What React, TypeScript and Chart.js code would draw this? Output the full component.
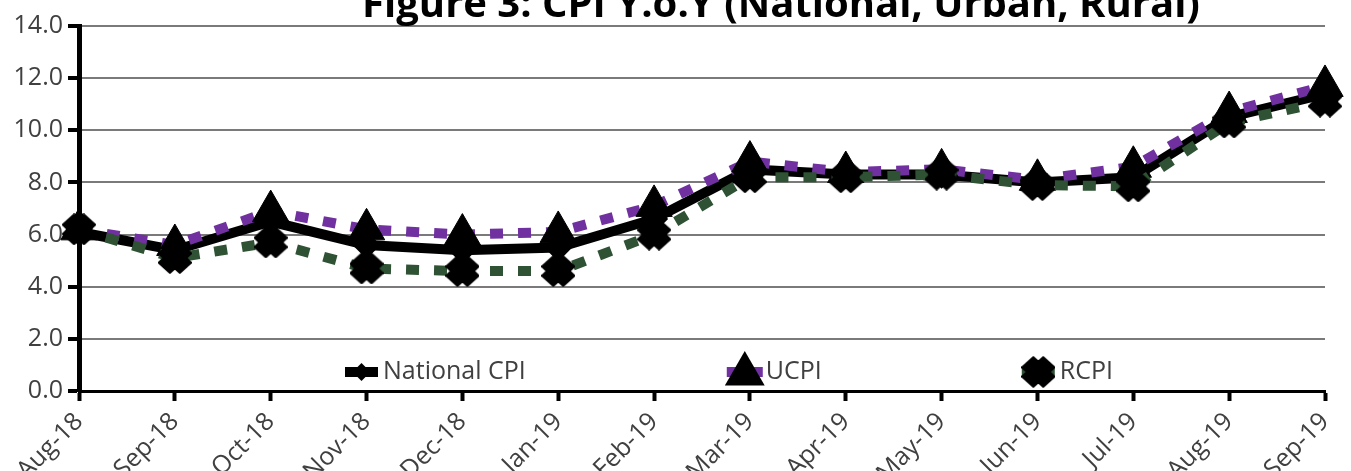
import React, { useEffect, useRef } from "react";
import { Chart, registerables } from "chart.js";

Chart.register(...registerables);

const months = [
  "Aug-18", "Sep-18", "Oct-18", "Nov-18", "Dec-18", "Jan-19", "Feb-19",
  "Mar-19", "Apr-19", "May-19", "Jun-19", "Jul-19", "Aug-19", "Sep-19",
];
const nationalCPI = [6.1, 5.4, 6.5, 5.6, 5.4, 5.5, 6.6, 8.5, 8.3, 8.3, 8.0, 8.2, 10.5, 11.4];
const ucpi = [6.2, 5.6, 6.9, 6.2, 6.0, 6.1, 7.1, 8.8, 8.4, 8.5, 8.1, 8.6, 10.7, 11.7];
const rcpi = [6.2, 5.1, 5.7, 4.7, 4.6, 4.6, 6.0, 8.2, 8.2, 8.3, 7.9, 7.85, 10.3, 11.1];
const yTickValues = [0, 2, 4, 6, 8, 10, 12, 14];
const seriesNames = ["National CPI", "UCPI", "RCPI"];
const titleText = "Figure 3: CPI Y.o.Y (National, Urban, Rural)";

const FONT = "'Open Sans', 'DejaVu Sans', sans-serif";
const TICK_SIZE = 25;
const TEXT_COLOR = "#404040";
const PURPLE = "#7030A0";
const GREEN = "#2E5233";

function makeXMarker(): HTMLCanvasElement {
  const c = document.createElement("canvas");
  c.width = 34;
  c.height = 32;
  const g = c.getContext("2d")!;
  const s = 15;
  const w = 8;
  const pts: [number, number][] = [
    [w, s], [w, w], [s, w], [s, -w], [w, -w], [w, -s],
    [-w, -s], [-w, -w], [-s, -w], [-s, w], [-w, w], [-w, s],
  ];
  const a = Math.PI / 4;
  g.translate(17, 16);
  g.scale(1, 0.92);
  g.beginPath();
  pts.forEach(([px, py], i) => {
    const rx = px * Math.cos(a) - py * Math.sin(a);
    const ry = px * Math.sin(a) + py * Math.cos(a);
    if (i === 0) g.moveTo(rx, ry);
    else g.lineTo(rx, ry);
  });
  g.closePath();
  g.fillStyle = "#000";
  g.fill();
  g.lineJoin = "round";
  g.lineWidth = 2;
  g.strokeStyle = "#000";
  g.stroke();
  return c;
}

export default function App() {
  const ref = useRef<HTMLCanvasElement>(null);

  useEffect(() => {
    const xMarker = makeXMarker();

    const titlePlugin = {
      id: "topTitle",
      afterDraw(chart: any) {
        const ctx = chart.ctx;
        ctx.save();
        ctx.font = `bold 40px ${FONT}`;
        ctx.fillStyle = "#000";
        ctx.textAlign = "center";
        ctx.textBaseline = "alphabetic";
        ctx.fillText(titleText, 781, 17);
        ctx.restore();
      },
    };

    const legendPlugin = {
      id: "innerLegend",
      afterDatasetsDraw(chart: any) {
        const ctx = chart.ctx;
        const ca = chart.chartArea;
        const y = ca.bottom - 19;
        ctx.save();
        ctx.font = `${TICK_SIZE}px ${FONT}`;
        ctx.textBaseline = "middle";
        ctx.textAlign = "left";
        let x = ca.left + 266;

        // National CPI
        ctx.strokeStyle = "#000";
        ctx.lineWidth = 10;
        ctx.beginPath();
        ctx.moveTo(x, y);
        ctx.lineTo(x + 33, y);
        ctx.stroke();
        ctx.fillStyle = "#000";
        ctx.beginPath();
        ctx.moveTo(x + 16.5, y - 9);
        ctx.lineTo(x + 25.5, y);
        ctx.lineTo(x + 16.5, y + 9);
        ctx.lineTo(x + 7.5, y);
        ctx.closePath();
        ctx.fill();
        ctx.fillStyle = TEXT_COLOR;
        ctx.fillText(seriesNames[0], x + 38, y);
        x += 38 + ctx.measureText(seriesNames[0]).width + 197;

        // UCPI
        ctx.strokeStyle = PURPLE;
        ctx.lineWidth = 10;
        ctx.beginPath();
        ctx.moveTo(x + 4, y);
        ctx.lineTo(x + 40, y);
        ctx.stroke();
        const cx = x + 22;
        const r = 23;
        const cy = y + 2;
        ctx.fillStyle = "#000";
        ctx.beginPath();
        for (let i = 0; i < 3; i++) {
          const ang = (i * 2 * Math.PI) / 3;
          const px = cx + Math.sin(ang) * r;
          const py = cy - Math.cos(ang) * r;
          if (i === 0) ctx.moveTo(px, py);
          else ctx.lineTo(px, py);
        }
        ctx.closePath();
        ctx.fill();
        ctx.fillStyle = TEXT_COLOR;
        ctx.fillText(seriesNames[1], x + 43, y);
        x += 43 + ctx.measureText(seriesNames[1]).width + 200;

        // RCPI
        ctx.strokeStyle = GREEN;
        ctx.lineWidth = 10;
        ctx.beginPath();
        ctx.moveTo(x, y);
        ctx.lineTo(x + 33, y);
        ctx.stroke();
        ctx.drawImage(xMarker, x + 16.5 - xMarker.width / 2, y - xMarker.height / 2);
        ctx.fillStyle = TEXT_COLOR;
        ctx.fillText(seriesNames[2], x + 38, y);
        ctx.restore();
      },
    };

    const chart = new Chart(ref.current!, {
      type: "line",
      data: {
        labels: months,
        datasets: [
          {
            label: seriesNames[0],
            data: nationalCPI,
            borderColor: "#000",
            borderWidth: 10,
            pointStyle: "rectRot",
            pointRadius: 7,
            pointBackgroundColor: "#000",
            pointBorderColor: "#000",
            tension: 0,
            order: 3,
            clip: false,
          },
          {
            label: seriesNames[1],
            data: ucpi,
            borderColor: PURPLE,
            borderWidth: 10,
            borderDash: [13, 15],
            borderCapStyle: "butt",
            pointStyle: "triangle",
            pointRadius: 21,
            pointBackgroundColor: "#000",
            pointBorderColor: "#000",
            pointBorderWidth: 1,
            tension: 0,
            order: 2,
            clip: false,
          },
          {
            label: seriesNames[2],
            data: rcpi,
            borderColor: GREEN,
            borderWidth: 10,
            borderDash: [13, 15],
            borderCapStyle: "butt",
            pointStyle: xMarker,
            pointRadius: 16,
            pointBackgroundColor: "#000",
            pointBorderColor: "#000",
            tension: 0,
            order: 1,
            clip: false,
          },
        ],
      },
      options: {
        responsive: false,
        animation: false,
        events: [],
        layout: { padding: { left: 0, right: 24, top: 21, bottom: 0 } },
        plugins: {
          legend: { display: false },
          title: { display: false },
          tooltip: { enabled: false },
        },
        scales: {
          x: {
            type: "category",
            offset: false,
            grid: {
              display: true,
              drawOnChartArea: false,
              drawTicks: true,
              tickLength: 10,
              tickWidth: 4,
              tickColor: "#000",
            },
            border: { display: true, color: "#000", width: 3 },
            ticks: {
              autoSkip: false,
              minRotation: 45,
              maxRotation: 45,
              color: TEXT_COLOR,
              font: { family: FONT, size: TICK_SIZE },
              padding: 6,
            },
            afterFit: (s: any) => {
              s.height = 80;
              s.paddingLeft = 0;
              s.paddingRight = 0;
              s.paddingTop = 0;
              s.paddingBottom = 0;
            },
          },
          y: {
            min: 0,
            max: 14,
            afterBuildTicks: (s: any) => {
              s.ticks = yTickValues.map((v) => ({ value: v }));
            },
            ticks: {
              callback: (v: any) => Number(v).toFixed(1),
              color: TEXT_COLOR,
              font: { family: FONT, size: TICK_SIZE },
              padding: 5,
            },
            grid: {
              color: (c: any) => (c.tick && c.tick.value === 0 ? "#000" : "#7a7a7a"),
              lineWidth: 2,
              tickLength: 11,
              tickColor: "#000",
              tickWidth: 4,
            },
            border: { display: true, color: "#000", width: 5 },
            afterFit: (s: any) => {
              s.width = 79;
              s.paddingTop = 0;
              s.paddingBottom = 0;
            },
          },
        },
      },
      plugins: [legendPlugin, titlePlugin],
    });
    return () => chart.destroy();
  }, []);

  return (
    <div style={{ position: "fixed", left: 0, top: 0, width: 1351, height: 471, background: "#fff" }}>
      <canvas ref={ref} width={1351} height={471} style={{ display: "block" }} />
    </div>
  );
}
